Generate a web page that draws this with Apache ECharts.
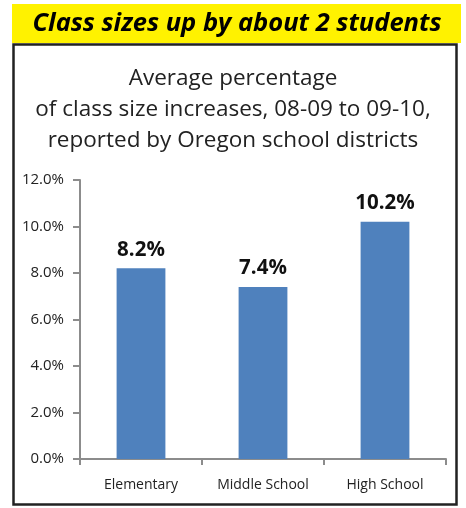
<!DOCTYPE html>
<html>
<head>
<meta charset="utf-8">
<script src="https://cdn.jsdelivr.net/npm/echarts@6/dist/echarts.min.js"></script>
<style>
  html, body { margin: 0; padding: 0; background: #fff; }
  #chart { width: 466px; height: 508px; }
</style>
</head>
<body>
<div id="chart"></div>
<script>
  const categories = ['Elementary', 'Middle School', 'High School'];
  const increases = [8.2, 7.4, 10.2];
  const yTicks = [0, 2, 4, 6, 8, 10, 12];

  const chart = echarts.init(document.getElementById('chart'));

  const option = {
    backgroundColor: '#fff',
    animation: false,
    graphic: [
      {
        type: 'rect',
        shape: {x: 12, y: 4, width: 449, height: 39},
        style: {fill: '#fff200'}
      },
      {
        type: 'text',
        x: 237,
        y: 24,
        style: {
          text: 'Class sizes up by about 2 students',
          fontFamily: 'Open Sans',
          fontSize: 25.5,
          fontWeight: 'bold',
          fontStyle: 'italic',
          fill: '#000',
          align: 'center',
          verticalAlign: 'middle'
        }
      },
      {
        type: 'rect',
        shape: {x: 13.5, y: 44.5, width: 443, height: 460},
        style: {fill: 'none', stroke: '#222', lineWidth: 2.5}
      }
    ],
    title: {
      text: 'Average percentage\nof class size increases, 08-09 to 09-10,\nreported by Oregon school districts',
      left: 'center',
      top: 58,
      textStyle: {
        fontFamily: 'Open Sans',
        fontSize: 22.5,
        fontWeight: 'normal',
        color: '#222',
        lineHeight: 31
      }
    },
    grid: {
      left: 80,
      right: 20,
      top: 180,
      bottom: 49
    },
    xAxis: {
      type: 'category',
      data: categories,
      axisLine: {lineStyle: {color: '#8c8c8c', width: 2}},
      axisTick: {show: true, length: 6, lineStyle: {color: '#8c8c8c', width: 2}},
      axisLabel: {
        fontFamily: 'Open Sans',
        fontSize: 14,
        color: '#222',
        margin: 19
      }
    },
    yAxis: {
      type: 'value',
      min: yTicks[0],
      max: yTicks[yTicks.length - 1],
      interval: 2,
      splitLine: {show: false},
      axisLine: {show: true, lineStyle: {color: '#8c8c8c', width: 2}},
      axisTick: {show: true, length: 7, lineStyle: {color: '#8c8c8c', width: 2}},
      axisLabel: {
        fontFamily: 'Open Sans',
        fontSize: 15,
        color: '#222',
        margin: 16,
        formatter: v => v.toFixed(1) + '%'
      }
    },
    series: [{
      type: 'bar',
      data: increases,
      barWidth: '40%',
      itemStyle: {color: '#4f81bd'},
      label: {
        show: true,
        position: 'top',
        distance: 8,
        fontFamily: 'Open Sans',
        fontSize: 20.5,
        fontWeight: 'bold',
        color: '#111',
        formatter: p => p.value.toFixed(1) + '%'
      }
    }]
  };

  chart.setOption(option);
</script>
</body>
</html>
